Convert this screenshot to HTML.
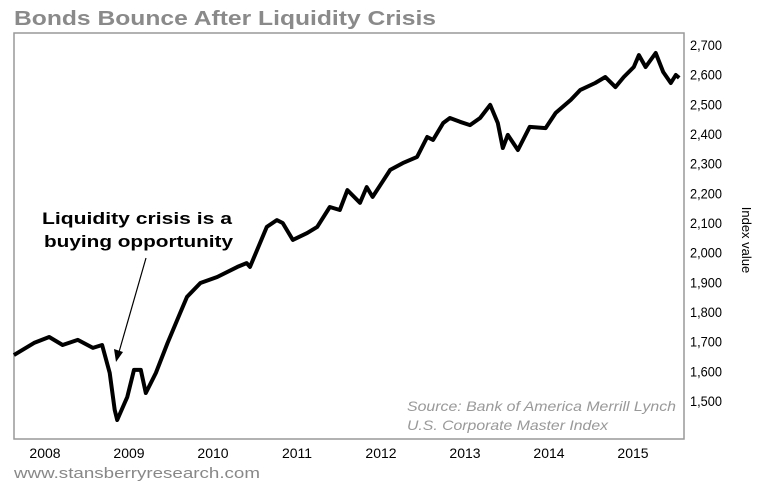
<!DOCTYPE html>
<html><head><meta charset="utf-8"><style>
body{margin:0;background:#fff;width:760px;height:484px;overflow:hidden}
svg{display:block;font-family:"Liberation Sans",Arial,sans-serif}
</style></head><body>
<svg width="760" height="484">
<text x="14" y="25" font-size="20" font-weight="bold" fill="#8a8a8a" textLength="422" lengthAdjust="spacingAndGlyphs">Bonds Bounce After Liquidity Crisis</text>
<rect x="14" y="33" width="670" height="406" fill="none" stroke="#999" stroke-width="1.5"/>
<g id="yticks"></g><g id="xticks"></g>
<text transform="translate(742,240) rotate(90)" text-anchor="middle" font-size="13" fill="#000">Index value</text>
<path id="line" fill="none" stroke="#000" stroke-width="4" stroke-linejoin="round"/>
<text x="42" y="224" font-size="17" font-weight="bold" textLength="190" lengthAdjust="spacingAndGlyphs">Liquidity crisis is a</text>
<text x="44" y="247" font-size="17" font-weight="bold" textLength="189" lengthAdjust="spacingAndGlyphs">buying opportunity</text>
<line x1="146" y1="258" x2="119" y2="352" stroke="#000" stroke-width="1.2"/>
<polygon points="116,362 114,349 123,352" fill="#000"/>
<text x="407" y="411" font-size="14" font-style="italic" fill="#999" textLength="269" lengthAdjust="spacingAndGlyphs">Source: Bank of America Merrill Lynch</text>
<text x="407" y="430" font-size="14" font-style="italic" fill="#999" textLength="201" lengthAdjust="spacingAndGlyphs">U.S. Corporate Master Index</text>
<text x="14" y="478" font-size="15" fill="#888" textLength="246" lengthAdjust="spacingAndGlyphs">www.stansberryresearch.com</text>
</svg>
<script>
const yTicks=[1500,1600,1700,1800,1900,2000,2100,2200,2300,2400,2500,2600,2700];
const yearLabels=[2008,2009,2010,2011,2012,2013,2014,2015];
const dates=[2007.63,2007.87,2008.05,2008.21,2008.39,2008.57,2008.68,2008.77,2008.83,2008.86,2008.98,2009.06,2009.14,2009.20,2009.32,2009.46,2009.61,2009.69,2009.85,2010.05,2010.29,2010.40,2010.44,2010.64,2010.76,2010.83,2010.95,2011.12,2011.24,2011.39,2011.51,2011.60,2011.75,2011.83,2011.90,2012.11,2012.26,2012.43,2012.55,2012.62,2012.74,2012.82,2012.94,2013.06,2013.18,2013.30,2013.39,2013.45,2013.51,2013.63,2013.77,2013.96,2014.08,2014.26,2014.37,2014.55,2014.67,2014.79,2014.89,2015.01,2015.07,2015.15,2015.27,2015.36,2015.45,2015.51,2015.55];
const values=[1655,1696,1716,1689,1706,1679,1689,1595,1470,1436,1514,1605,1605,1527,1595,1696,1797,1851,1898,1918,1952,1965,1952,2087,2110,2100,2043,2066,2087,2154,2144,2211,2168,2221,2188,2279,2302,2323,2390,2380,2437,2454,2441,2430,2454,2498,2437,2353,2397,2346,2424,2420,2471,2515,2548,2572,2592,2558,2592,2626,2666,2626,2673,2609,2572,2599,2589];
const NS="http://www.w3.org/2000/svg";
function xS(t){return 45+(t-2008)*84;}
function yS(v){return 45+(2700-v)*0.2967;}
const yt=document.getElementById('yticks');
yTicks.forEach(v=>{const t=document.createElementNS(NS,'text');
t.setAttribute('x',690);t.setAttribute('y',yS(v)+5);t.setAttribute('font-size','14');
t.setAttribute('textLength','32');t.setAttribute('lengthAdjust','spacingAndGlyphs');


t.textContent=v.toLocaleString('en-US');yt.appendChild(t);});
const xt=document.getElementById('xticks');
yearLabels.forEach(yr=>{const t=document.createElementNS(NS,'text');
t.setAttribute('x',xS(yr));t.setAttribute('y',458);t.setAttribute('font-size','14');t.setAttribute('text-anchor','middle');


t.textContent=yr;xt.appendChild(t);});
document.getElementById('line').setAttribute('d',dates.map((d,i)=>(i?'L':'M')+xS(d).toFixed(1)+','+yS(values[i]).toFixed(1)).join(''));
</script>
</body></html>
